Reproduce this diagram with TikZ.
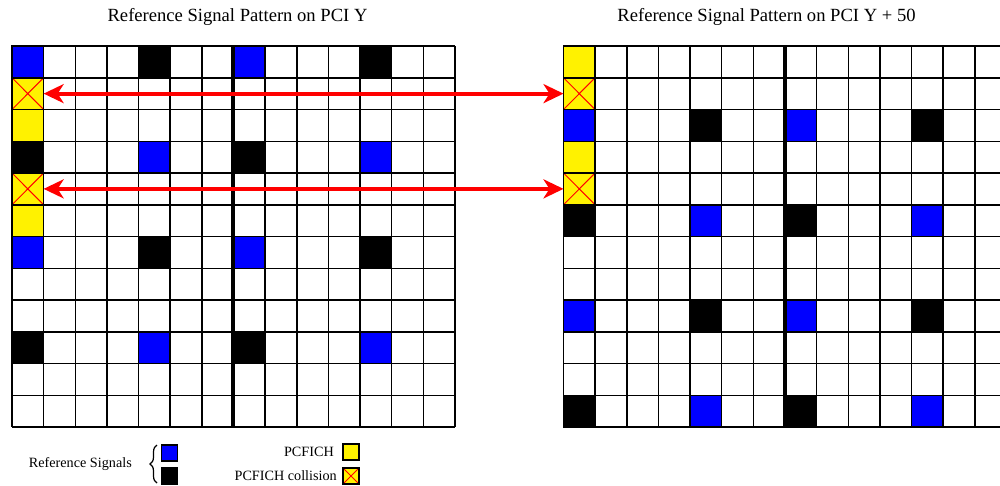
\documentclass[tikz,border=0pt]{standalone}
\usepackage{fontspec}
\setmainfont{Liberation Serif}
\usetikzlibrary{arrows.meta,decorations.pathreplacing}
\begin{document}
\begin{tikzpicture}[x=1pt,y=-1pt,
  gridline/.style={black, line width=1.5pt},
  sepline/.style={black, line width=4pt},
  cellbox/.style={draw=black, line width=1.5pt, minimum width=31.64pt, minimum height=31.75pt, inner sep=0pt, outer sep=0pt},
  rsblue/.style={cellbox, fill=blue},
  rsblack/.style={cellbox, fill=black},
  pcfich/.style={cellbox, fill=yellow},
  crossed/.style={path picture={\draw[red, line width=1pt] (path picture bounding box.north west) -- (path picture bounding box.south east) (path picture bounding box.north east) -- (path picture bounding box.south west);}},
  collision/.style={pcfich, crossed},
  legbox/.style={draw=black, line width=1.2pt, minimum size=16pt, inner sep=0pt, outer sep=0pt},
  arr/.style={red, line width=4pt, {Stealth[length=20pt,width=19pt,inset=6pt]}-{Stealth[length=20pt,width=19pt,inset=6pt]}},
  title/.style={font=\fontsize{18.6}{21}\selectfont, inner sep=0pt},
  legtext/.style={font=\fontsize{14.2}{16}\selectfont, inner sep=0pt},
  brace/.style={decorate, decoration={brace, amplitude=7pt}, line width=1.2pt}
]
\useasboundingbox (0,0) rectangle (1000,485);
\fill[white] (0,0) rectangle (1000,485);
\def\cw{31.64}
\def\ch{31.75}
\begin{scope}
\clip (0,0) rectangle (1000,485);
% ---------- left grid ----------
\foreach \i in {0,...,14} \draw[gridline] ({12+\i*\cw},46) -- ({12+\i*\cw},427);
\foreach \j in {0,...,12} \draw[gridline] (12,{46+\j*\ch}) -- ({12+14*\cw},{46+\j*\ch});
\foreach \r/\c in {0/0,0/7,3/4,3/11,6/0,6/7,9/4,9/11}
  \node[rsblue] (L-\r-\c) at ({12+(\c+0.5)*\cw},{46+(\r+0.5)*\ch}) {};
\foreach \r/\c in {0/4,0/11,3/0,3/7,6/4,6/11,9/0,9/7}
  \node[rsblack] (L-\r-\c) at ({12+(\c+0.5)*\cw},{46+(\r+0.5)*\ch}) {};
\foreach \r in {2,5}
  \node[pcfich] (L-\r-0) at ({12+0.5*\cw},{46+(\r+0.5)*\ch}) {};
\foreach \r in {1,4}
  \node[collision] (L-\r-0) at ({12+0.5*\cw},{46+(\r+0.5)*\ch}) {};
\draw[sepline] ({12+7*\cw},46) -- ({12+7*\cw},427);
% ---------- right grid ----------
\foreach \i in {0,...,14} \draw[gridline] ({563.5+\i*\cw},46) -- ({563.5+\i*\cw},427);
\foreach \j in {0,...,12} \draw[gridline] (563.5,{46+\j*\ch}) -- ({563.5+14*\cw},{46+\j*\ch});
\foreach \r/\c in {2/0,2/7,5/4,5/11,8/0,8/7,11/4,11/11}
  \node[rsblue] (R-\r-\c) at ({563.5+(\c+0.5)*\cw},{46+(\r+0.5)*\ch}) {};
\foreach \r/\c in {2/4,2/11,5/0,5/7,8/4,8/11,11/0,11/7}
  \node[rsblack] (R-\r-\c) at ({563.5+(\c+0.5)*\cw},{46+(\r+0.5)*\ch}) {};
\foreach \r in {0,3}
  \node[pcfich] (R-\r-0) at ({563.5+0.5*\cw},{46+(\r+0.5)*\ch}) {};
\foreach \r in {1,4}
  \node[collision] (R-\r-0) at ({563.5+0.5*\cw},{46+(\r+0.5)*\ch}) {};
\draw[sepline] ({563.5+7*\cw},46) -- ({563.5+7*\cw},427);
\end{scope}
% ---------- collision arrows ----------
\draw[arr] (L-1-0.east) -- (R-1-0.west);
\draw[arr] (L-4-0.east) -- (R-4-0.west);
% ---------- titles ----------
\node[title] (t1) at (237.5,17) {Reference Signal Pattern on PCI Y};
\node[title] (t2) at (766.5,17) {Reference Signal Pattern on PCI Y + 50};
% ---------- legend ----------
\node[legtext, anchor=east] (rslab) at (132,464) {Reference Signals};
\node[legbox, fill=blue] (legblue) at (169.5,453) {};
\node[legbox, fill=black] (legblack) at (169.5,476) {};
\draw[brace] (157,483) -- (157,445);
\node[legtext, anchor=east] (pclab) at (334,452) {PCFICH};
\node[legbox, fill=yellow] (legyellow) at (351,452) {};
\node[legtext, anchor=east] (collab) at (337,476) {PCFICH collision};
\node[legbox, fill=yellow, crossed] (legcoll) at (351,476) {};
\end{tikzpicture}
\end{document}
